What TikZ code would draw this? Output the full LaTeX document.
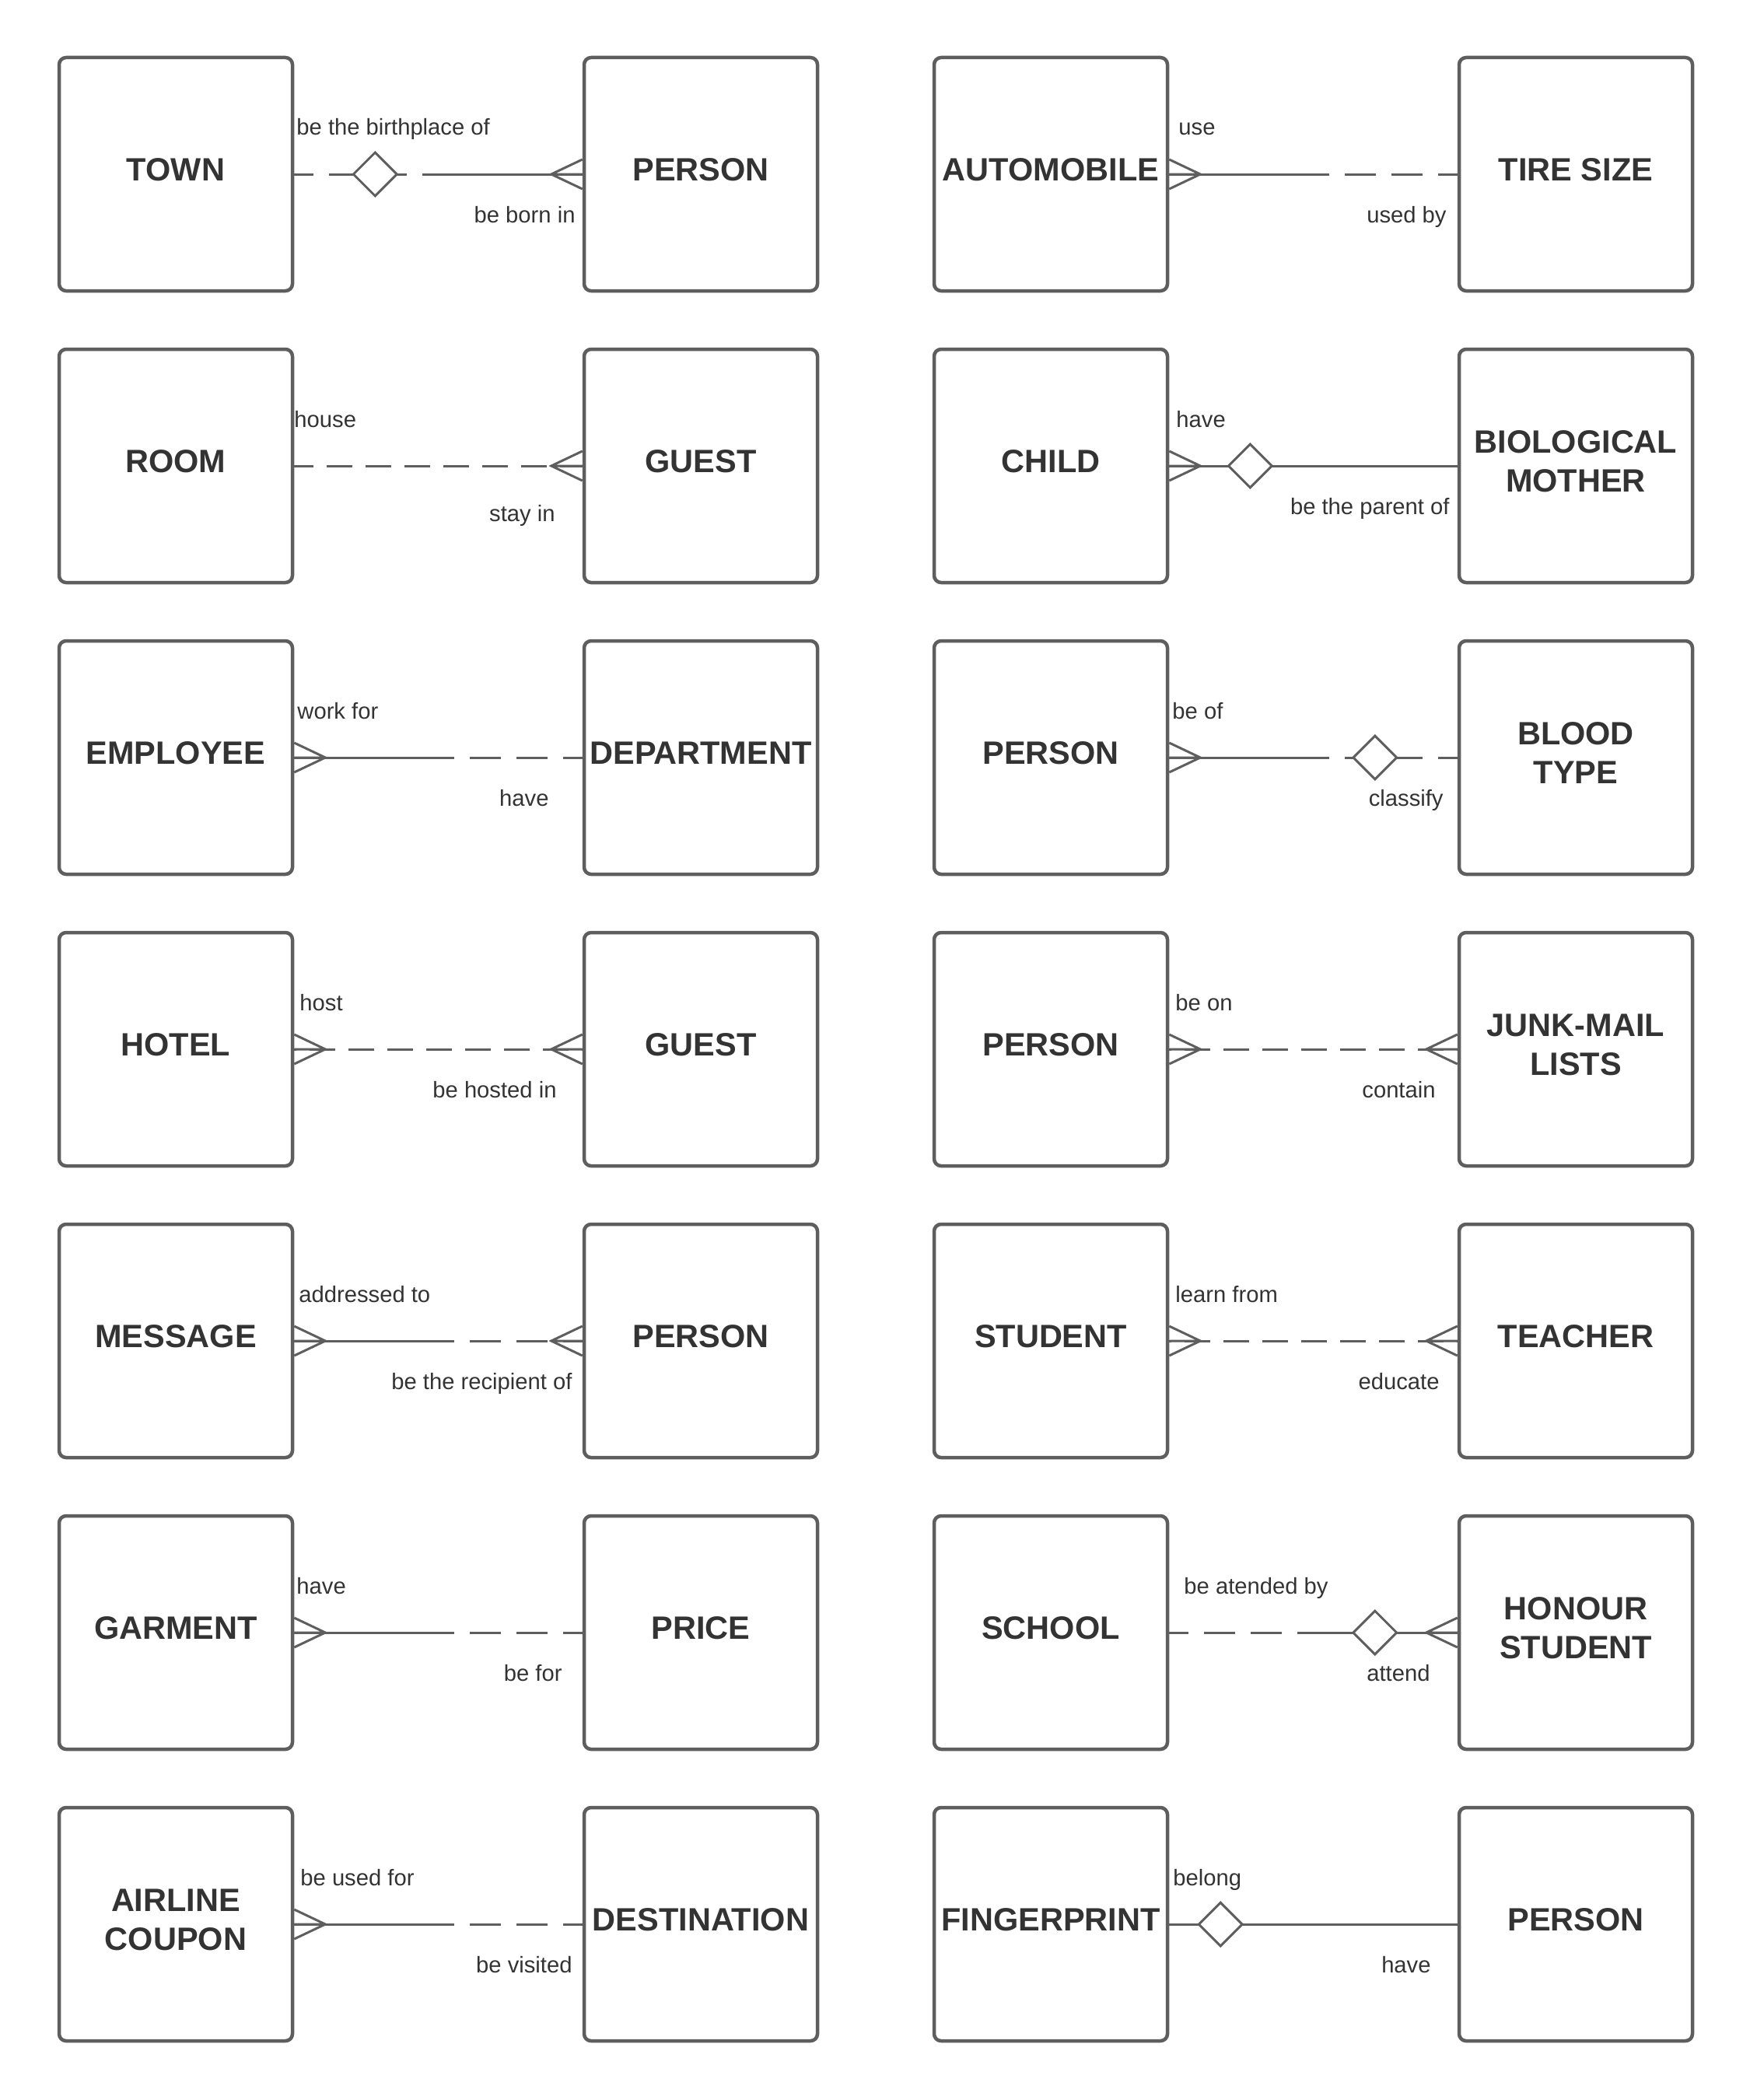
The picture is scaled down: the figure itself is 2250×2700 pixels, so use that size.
\documentclass[tikz,border=0pt]{standalone}
\usepackage{fontspec}
\setmainfont{Liberation Sans}
\usetikzlibrary{calc,shapes.geometric}
\definecolor{edgegray}{RGB}{94,94,94}
\definecolor{inkgray}{RGB}{51,51,51}
\begin{document}
\begin{tikzpicture}[x=1pt,y=-1pt,
  entity/.style={draw=edgegray, line width=4.5pt, rounded corners=9pt,
    minimum width=300pt, minimum height=300pt, inner sep=0pt, align=center,
    text=inkgray, font=\fontsize{41.5}{50}\selectfont\bfseries, text depth=12pt},
  conn/.style={draw=edgegray, line width=3pt},
  halfdash/.style={conn, dash pattern=on 40pt off 20pt, dash phase=15pt},
  fulldash/.style={conn, dash pattern=on 33pt off 17pt, dash phase=#1},
  rel/.style={diamond, draw=edgegray, line width=3pt, fill=white,
    minimum width=57pt, minimum height=57pt, inner sep=0pt},
  role/.style={inner sep=0pt, text=inkgray, font=\fontsize{29.2}{34}\selectfont},
  toprole/.style={role, anchor=base west},
  botrole/.style={role, anchor=base east},
  crowin/.pic={\draw[conn] (0,-19) -- (-40,0) -- (0,19) (0,0) -- (-40,0);},
  crowout/.pic={\draw[conn] (0,-19) -- (40,0) -- (0,19) (0,0) -- (40,0);},
]
\useasboundingbox (0,0) rectangle (2250,2700);

% ---------- entities ----------
\node[entity] (town)        at (226,224)   {TOWN};
\node[entity] (personA)     at (901,224)   {PERSON};
\node[entity] (auto)        at (1351,224)  {AUTOMOBILE};
\node[entity] (tire)        at (2026,224)  {TIRE SIZE};

\node[entity] (room)        at (226,599)   {ROOM};
\node[entity] (guestA)      at (901,599)   {GUEST};
\node[entity] (child)       at (1351,599)  {CHILD};
\node[entity] (mother)      at (2026,599)  {BIOLOGICAL\\MOTHER};

\node[entity] (employee)    at (226,974)   {EMPLOYEE};
\node[entity] (department)  at (901,974)   {DEPARTMENT};
\node[entity] (personB)     at (1351,974)  {PERSON};
\node[entity] (blood)       at (2026,974)  {BLOOD\\TYPE};

\node[entity] (hotel)       at (226,1349)  {HOTEL};
\node[entity] (guestB)      at (901,1349)  {GUEST};
\node[entity] (personC)     at (1351,1349) {PERSON};
\node[entity] (junk)        at (2026,1349) {JUNK-MAIL\\LISTS};

\node[entity] (message)     at (226,1724)  {MESSAGE};
\node[entity] (personD)     at (901,1724)  {PERSON};
\node[entity] (student)     at (1351,1724) {STUDENT};
\node[entity] (teacher)     at (2026,1724) {TEACHER};

\node[entity] (garment)     at (226,2099)  {GARMENT};
\node[entity] (price)       at (901,2099)  {PRICE};
\node[entity] (school)      at (1351,2099) {SCHOOL};
\node[entity] (honour)      at (2026,2099) {HONOUR\\STUDENT};

\node[entity] (airline)     at (226,2474)  {AIRLINE\\COUPON};
\node[entity] (destination) at (901,2474)  {DESTINATION};
\node[entity] (fingerprint) at (1351,2474) {FINGERPRINT};
\node[entity] (personE)     at (2026,2474) {PERSON};

% ---------- relationships ----------
% town - person
\draw[halfdash] (town.east) -- ($(town.east)+(166,0)$);
\draw[conn] ($(town.east)+(166,0)$) -- (personA.west);
\pic at (personA.west) {crowin};
\node[rel] (dTown) at ($(town.east)+(104,0)$) {};
\node[toprole] (tTown) at ($(town.east)+(3,-50)$) {be the birthplace of};
\node[botrole] (bTown) at ($(personA.west)+(-9,62)$) {be born in};

% automobile - tire size
\draw[conn] (auto.east) -- ($(tire.west)+(-166,0)$);
\draw[halfdash] (tire.west) -- ($(tire.west)+(-166,0)$);
\pic at (auto.east) {crowout};
\node[toprole] (tAuto) at ($(auto.east)+(12,-50)$) {use};
\node[botrole] (bAuto) at ($(tire.west)+(-14,62)$) {used by};

% room - guest
\draw[fulldash=8pt] (room.east) -- (guestA.west);
\pic at (guestA.west) {crowin};
\node[toprole] (tRoom) at ($(room.east)+(0,-50)$) {house};
\node[botrole] (bRoom) at ($(guestA.west)+(-35,71)$) {stay in};

% child - biological mother
\draw[conn] (child.east) -- (mother.west);
\pic at (child.east) {crowout};
\node[rel] (dChild) at ($(child.east)+(104,0)$) {};
\node[toprole] (tChild) at ($(child.east)+(9,-50)$) {have};
\node[botrole] (bChild) at ($(mother.west)+(-10,62)$) {be the parent of};

% employee - department
\draw[conn] (employee.east) -- ($(department.west)+(-166,0)$);
\draw[halfdash] (department.west) -- ($(department.west)+(-166,0)$);
\pic at (employee.east) {crowout};
\node[toprole] (tEmp) at ($(employee.east)+(4,-50)$) {work for};
\node[botrole] (bEmp) at ($(department.west)+(-43,62)$) {have};

% person - blood type
\draw[conn] (personB.east) -- ($(blood.west)+(-166,0)$);
\draw[halfdash] (blood.west) -- ($(blood.west)+(-166,0)$);
\pic at (personB.east) {crowout};
\node[rel] (dBlood) at ($(blood.west)+(-106,0)$) {};
\node[toprole] (tBlood) at ($(personB.east)+(4,-50)$) {be of};
\node[botrole] (bBlood) at ($(blood.west)+(-18,62)$) {classify};

% hotel - guest
\draw[fulldash=30pt] (hotel.east) -- (guestB.west);
\pic at (hotel.east) {crowout};
\pic at (guestB.west) {crowin};
\node[toprole] (tHotel) at ($(hotel.east)+(7,-50)$) {host};
\node[botrole] (bHotel) at ($(guestB.west)+(-33,62)$) {be hosted in};

% person - junk-mail lists
\draw[fulldash=30pt] (personC.east) -- (junk.west);
\pic at (personC.east) {crowout};
\pic at (junk.west) {crowin};
\node[toprole] (tJunk) at ($(personC.east)+(8,-50)$) {be on};
\node[botrole] (bJunk) at ($(junk.west)+(-28,62)$) {contain};

% message - person
\draw[conn] (message.east) -- ($(personD.west)+(-166,0)$);
\draw[halfdash] (personD.west) -- ($(personD.west)+(-166,0)$);
\pic at (message.east) {crowout};
\pic at (personD.west) {crowin};
\node[toprole] (tMsg) at ($(message.east)+(6,-50)$) {addressed to};
\node[botrole] (bMsg) at ($(personD.west)+(-13,62)$) {be the recipient of};

% student - teacher
\draw[fulldash=30pt] (student.east) -- (teacher.west);
\pic at (student.east) {crowout};
\pic at (teacher.west) {crowin};
\node[toprole] (tStud) at ($(student.east)+(8,-50)$) {learn from};
\node[botrole] (bStud) at ($(teacher.west)+(-23,62)$) {educate};

% garment - price
\draw[conn] (garment.east) -- ($(price.west)+(-166,0)$);
\draw[halfdash] (price.west) -- ($(price.west)+(-166,0)$);
\pic at (garment.east) {crowout};
\node[toprole] (tGarm) at ($(garment.east)+(3,-50)$) {have};
\node[botrole] (bGarm) at ($(price.west)+(-26,62)$) {be for};

% school - honour student
\draw[halfdash] (school.east) -- ($(school.east)+(166,0)$);
\draw[conn] ($(school.east)+(166,0)$) -- (honour.west);
\pic at (honour.west) {crowin};
\node[rel] (dSchool) at ($(honour.west)+(-106,0)$) {};
\node[toprole] (tSchool) at ($(school.east)+(19,-50)$) {be atended by};
\node[botrole] (bSchool) at ($(honour.west)+(-35,62)$) {attend};

% airline coupon - destination
\draw[conn] (airline.east) -- ($(destination.west)+(-166,0)$);
\draw[halfdash] (destination.west) -- ($(destination.west)+(-166,0)$);
\pic at (airline.east) {crowout};
\node[toprole] (tAir) at ($(airline.east)+(8,-50)$) {be used for};
\node[botrole] (bAir) at ($(destination.west)+(-13,62)$) {be visited};

% fingerprint - person
\draw[conn] (fingerprint.east) -- (personE.west);
\node[rel] (dFinger) at ($(fingerprint.east)+(66,0)$) {};
\node[toprole] (tFinger) at ($(fingerprint.east)+(5,-50)$) {belong};
\node[botrole] (bFinger) at ($(personE.west)+(-34,62)$) {have};
\end{tikzpicture}
\end{document}
